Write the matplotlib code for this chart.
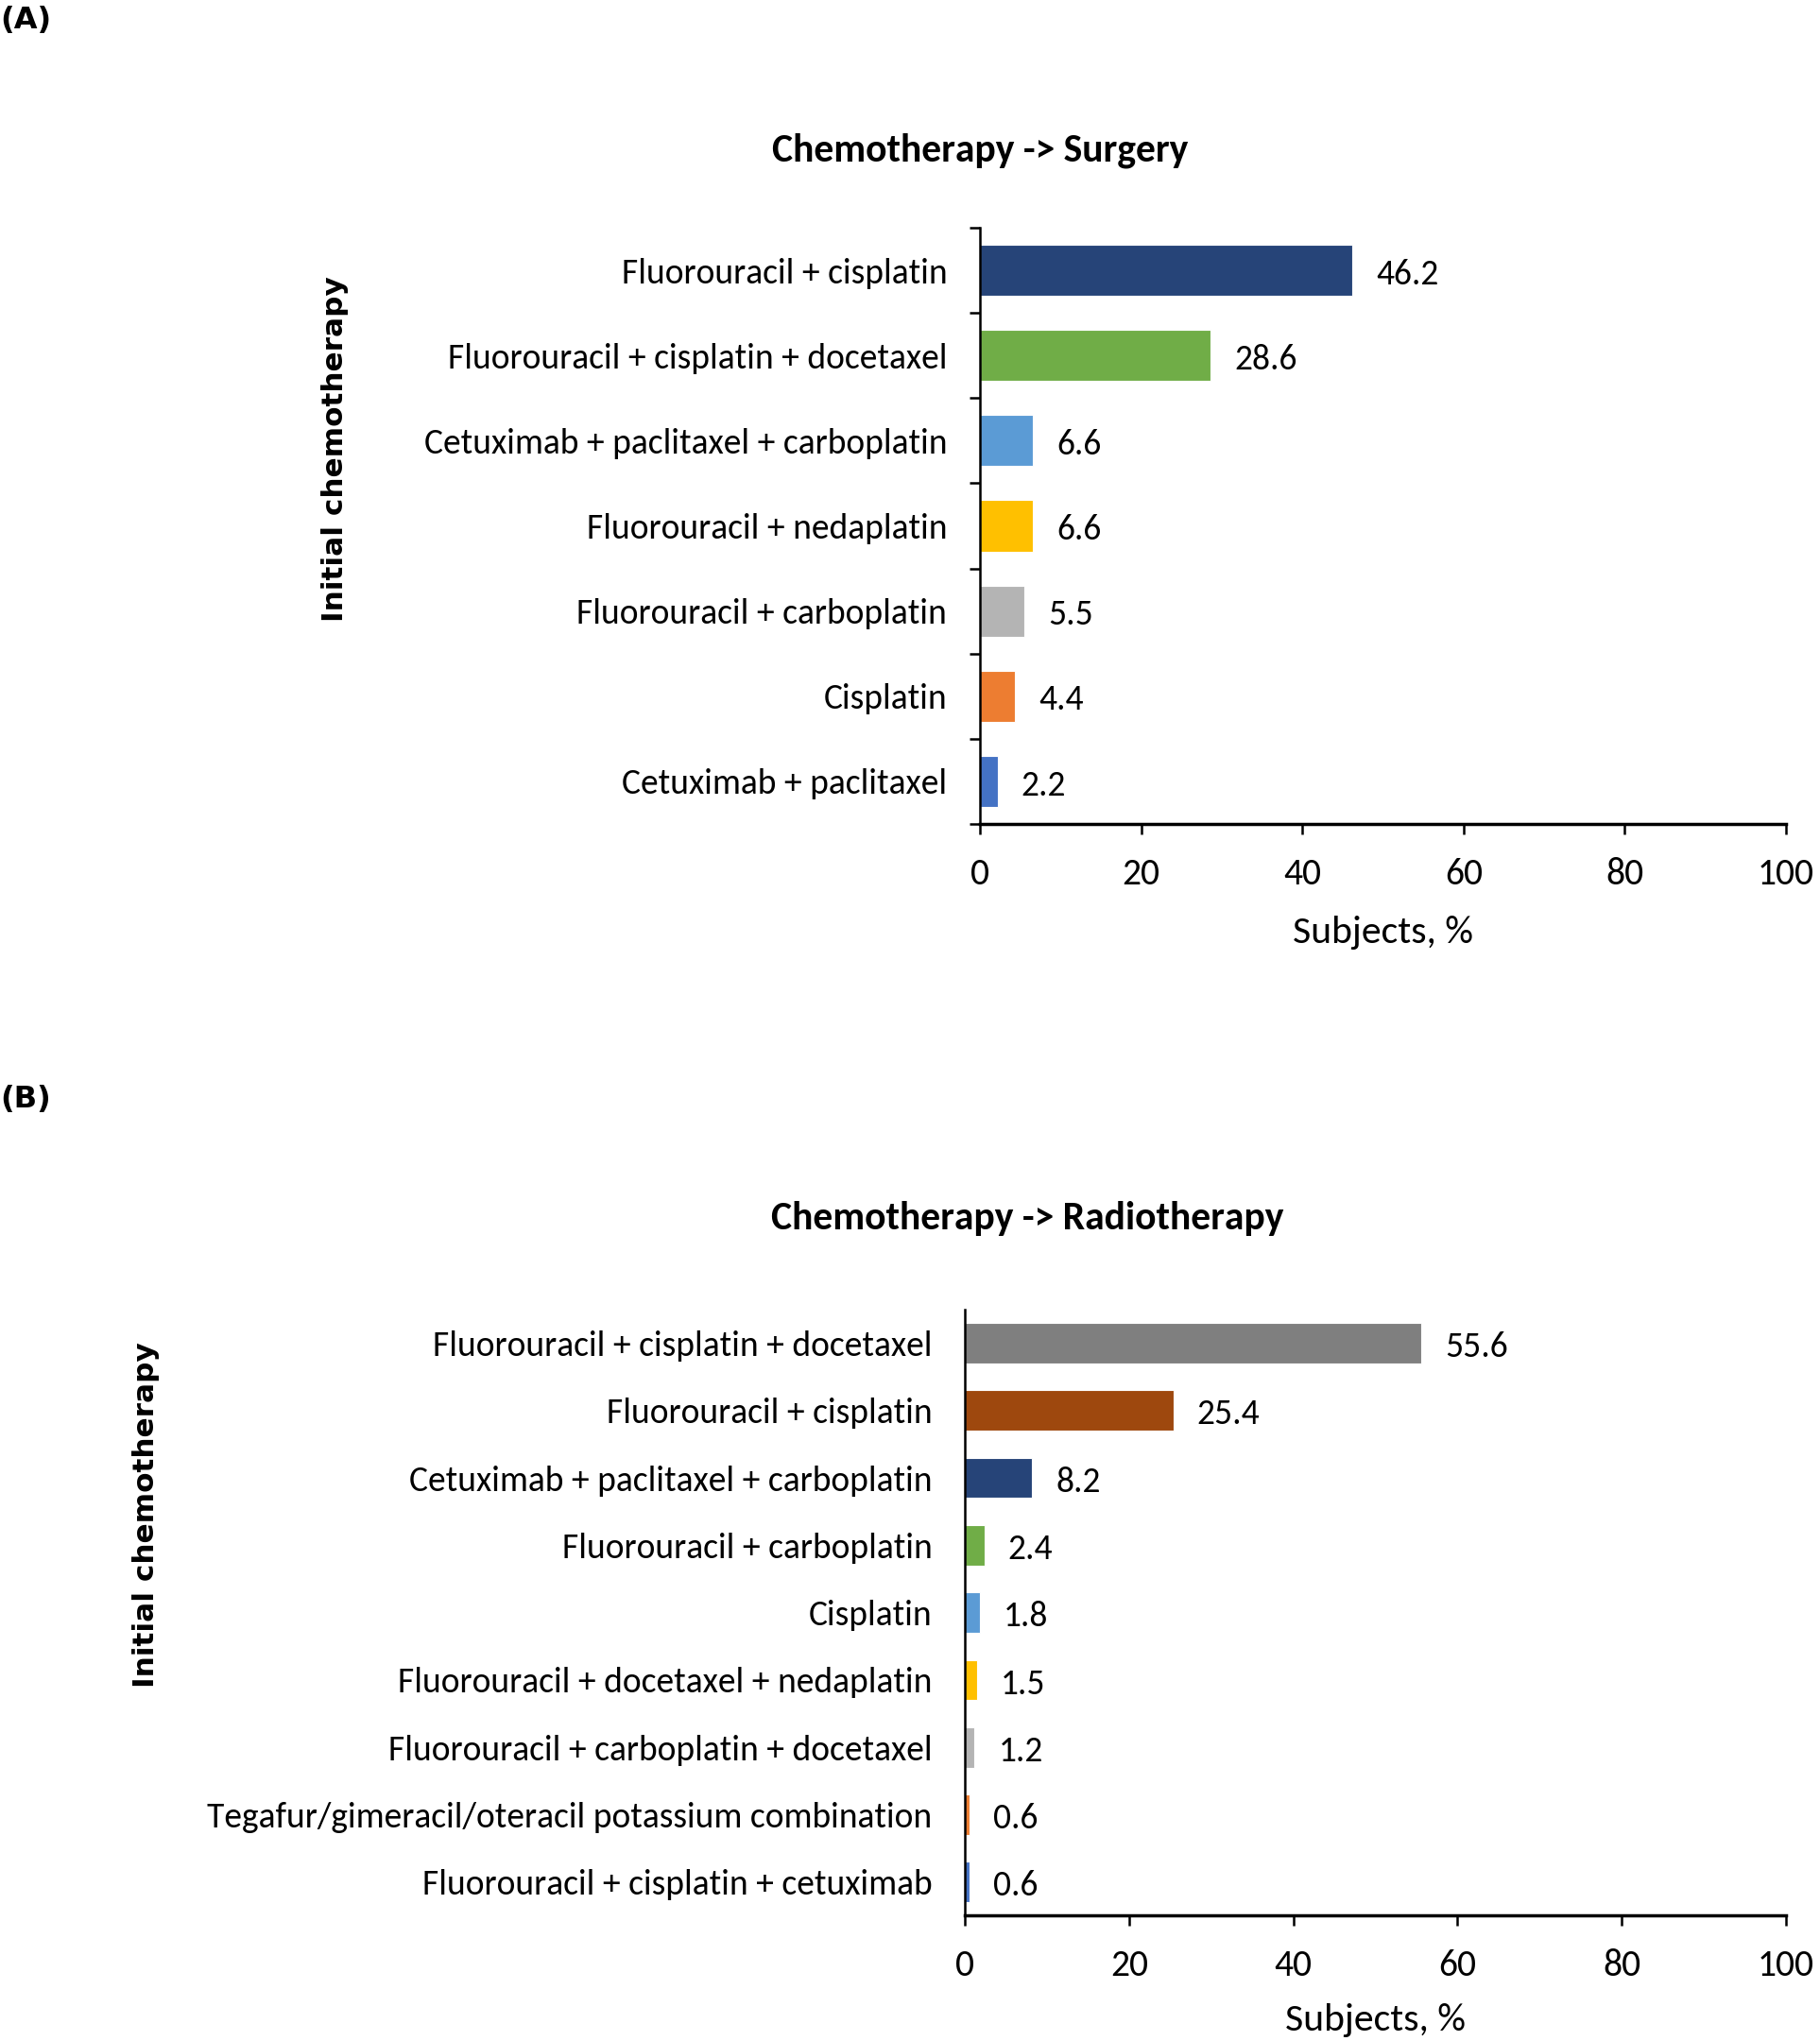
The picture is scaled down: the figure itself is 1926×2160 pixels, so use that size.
import matplotlib.pyplot as plt
from matplotlib.ticker import FixedLocator

# panel A: chemotherapy -> surgery (top to bottom)
a_labels = ['Fluorouracil + cisplatin', 'Fluorouracil + cisplatin + docetaxel',
            'Cetuximab + paclitaxel + carboplatin', 'Fluorouracil + nedaplatin',
            'Fluorouracil + carboplatin', 'Cisplatin', 'Cetuximab + paclitaxel']
a_values = [46.2, 28.6, 6.6, 6.6, 5.5, 4.4, 2.2]
a_colors = ['#264478', '#70AD47', '#5B9BD5', '#FFC000', '#B4B4B4', '#ED7D31', '#4472C4']

# panel B: chemotherapy -> radiotherapy (top to bottom)
b_labels = ['Fluorouracil + cisplatin + docetaxel', 'Fluorouracil + cisplatin',
            'Cetuximab + paclitaxel + carboplatin', 'Fluorouracil + carboplatin',
            'Cisplatin', 'Fluorouracil + docetaxel + nedaplatin',
            'Fluorouracil + carboplatin + docetaxel',
            'Tegafur/gimeracil/oteracil potassium combination',
            'Fluorouracil + cisplatin + cetuximab']
b_values = [55.6, 25.4, 8.2, 2.4, 1.8, 1.5, 1.2, 0.6, 0.6]
b_colors = ['#7F7F7F', '#9E480E', '#264478', '#70AD47', '#5B9BD5', '#FFC000',
            '#B4B4B4', '#ED7D31', '#4472C4']

x_ticks = [0, 20, 40, 60, 80, 100]

FONT = ['Carlito', 'Lato', 'DejaVu Sans']
BOLD = ['DejaVu Sans']

fig = plt.figure(figsize=(19.26, 21.6), dpi=100)


def panel(rect, labels, values, colors, boundary_ticks, xlabelpad):
    ax = fig.add_axes(rect)
    n = len(labels)
    y = list(range(n))
    ax.barh(y, values, height=0.6, color=colors, edgecolor='white', linewidth=0.8)
    ax.set_ylim(n - 0.5, -0.5)
    ax.set_xlim(0, 100)
    ax.set_yticks(y)
    ax.set_yticklabels(labels, fontsize=27, family=FONT)
    ax.tick_params(axis='y', which='major', length=0, pad=25)
    if boundary_ticks:
        ax.yaxis.set_minor_locator(FixedLocator([i - 0.5 for i in range(n + 1)]))
        ax.tick_params(axis='y', which='minor', length=8, width=1.8, direction='out')
    ax.set_xticks(x_ticks)
    ax.set_xticklabels([str(t) for t in x_ticks], fontsize=28.5, family=FONT)
    ax.tick_params(axis='x', length=8, width=1.8, direction='out', pad=17)
    ax.set_xlabel('Subjects, %', fontsize=30, family=FONT, labelpad=xlabelpad)
    for s in ['top', 'right']:
        ax.spines[s].set_visible(False)
    ax.spines['left'].set_linewidth(1.8)
    ax.spines['bottom'].set_linewidth(2.5)
    for yi, v in zip(y, values):
        ax.annotate(f'{v:.1f}', xy=(v, yi), xytext=(18, -3), textcoords='offset points',
                    va='center', ha='left', fontsize=27, family=FONT)
    return ax


panel([0.5384, 0.5963, 0.4429, 0.2921], a_labels, a_values, a_colors, True, 19)
panel([0.5301, 0.0614, 0.4512, 0.2970], b_labels, b_values, b_colors, False, 16)

fig.text(0.0, 0.990, '(A)', fontsize=23, fontweight='bold', family=BOLD, ha='left', va='center')
fig.text(0.0, 0.4615, '(B)', fontsize=23, fontweight='bold', family=BOLD, ha='left', va='center')

fig.text(0.5384, 0.9265, 'Chemotherapy -> Surgery', fontsize=30, fontweight='bold',
         family=FONT, ha='center', va='center')
fig.text(0.5643, 0.4028, 'Chemotherapy -> Radiotherapy', fontsize=30, fontweight='bold',
         family=FONT, ha='center', va='center')

fig.text(0.1843, 0.780, 'Initial chemotherapy', fontsize=22.4, fontweight='bold',
         family=BOLD, rotation=90, ha='center', va='center')
fig.text(0.080, 0.2579, 'Initial chemotherapy', fontsize=22.4, fontweight='bold',
         family=BOLD, rotation=90, ha='center', va='center')

fig.savefig('out.png', dpi=100)
